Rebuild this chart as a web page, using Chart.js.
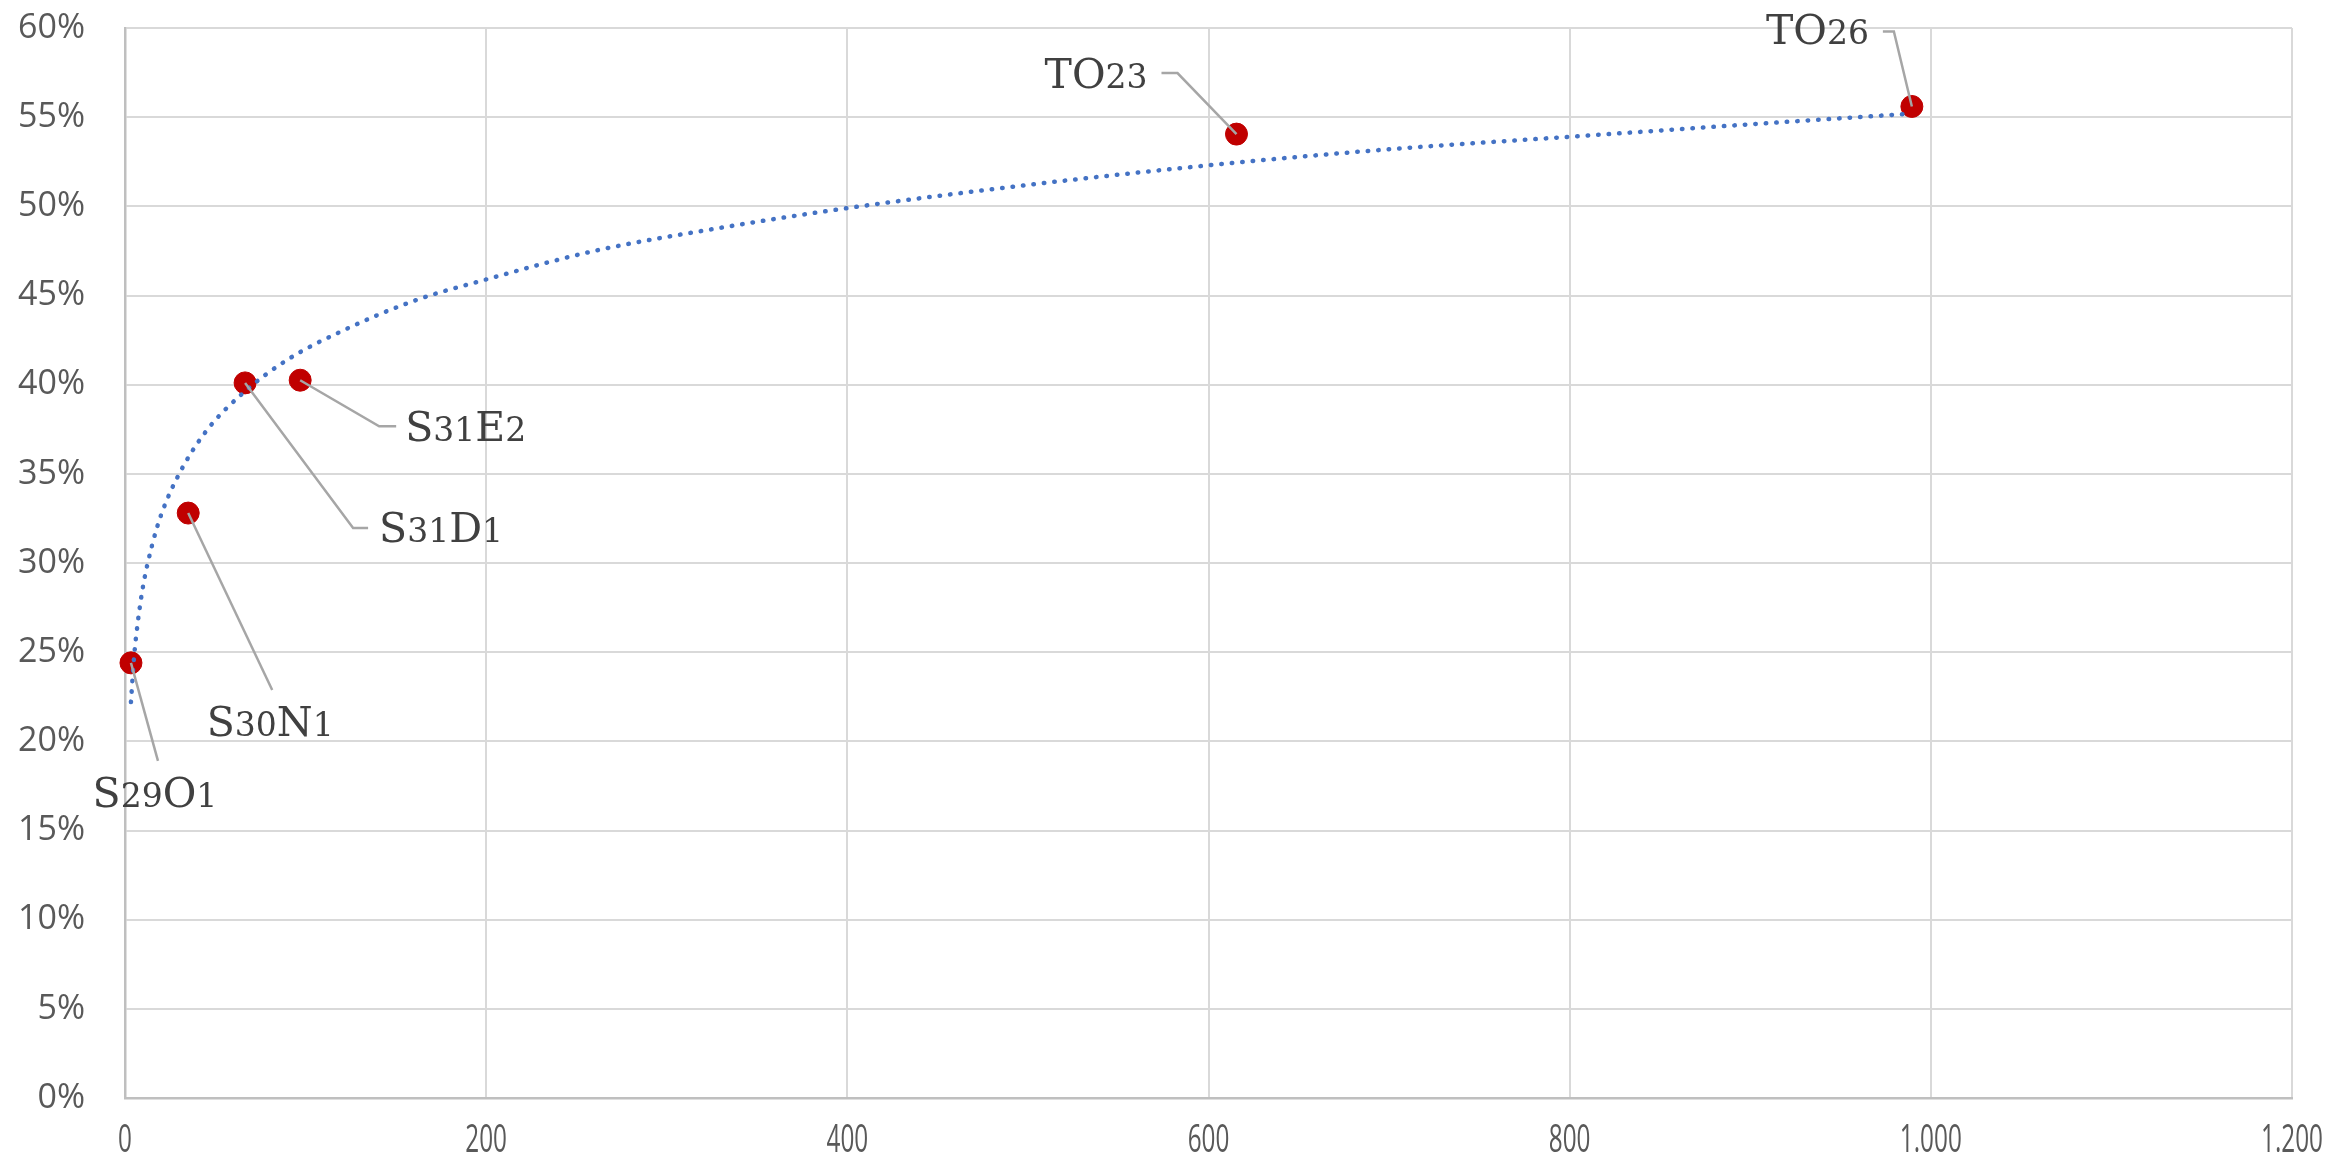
<!DOCTYPE html>
<html>
<head>
<meta charset="utf-8">
<script src="https://cdn.jsdelivr.net/npm/chart.js@4.4.0/dist/chart.umd.min.js"></script>
<style>
  html, body { margin: 0; padding: 0; background: #fff; }
  #wrap { width: 2331px; height: 1167px; }
</style>
</head>
<body>
<div id="wrap"><canvas id="chart"></canvas></div>
<script>
// samples
var sampleNames = ["S29O1", "S30N1", "S31D1", "S31E2", "TO23", "TO26"];
var xValues = [3.3, 35, 66.5, 97, 615.5, 989.5];
var yValues = [24.4, 32.8, 40.1, 40.25, 54.05, 55.6];

// logarithmic trend line
var trendX = [3.3, 5, 7, 10, 15, 20, 30, 45, 65, 90, 120, 160, 200, 260, 330, 400, 500, 600, 700, 800, 900, 989.5];
var trendY = [22.2, 24.7, 26.6, 28.7, 31.0, 32.7, 35.0, 37.4, 39.5, 41.4, 43.0, 44.7, 45.9, 47.5, 48.8, 49.9, 51.2, 52.3, 53.2, 53.9, 54.6, 55.2];

var xTicks = [0, 200, 400, 600, 800, 1000, 1200];
var yTicks = [0, 5, 10, 15, 20, 25, 30, 35, 40, 45, 50, 55, 60];

// where each data label sits, in px from its point (leader path, then text anchor)
var labelLayout = [
  { path: [[27, 98]], at: [24, 129], align: "center" },
  { path: [[84, 177]], at: [82, 208], align: "center" },
  { path: [[108, 145], [123, 145]], at: [134, 144], align: "left" },
  { path: [[79, 46], [96, 46]], at: [105, 46], align: "left" },
  { path: [[-59, -61], [-75, -61]], at: [-89, -61], align: "right" },
  { path: [[-18, -75], [-29, -75]], at: [-43, -77], align: "right" }
];

function fmtThousands(v) {
  return String(v).replace(/\B(?=(\d{3})+(?!\d))/g, ".");
}

// letters full size, digits a bit smaller (old-style look)
var letterFont = '41px "DejaVu Serif"';
var digitFont = '33px "DejaVu Serif"';

function drawRichLabel(ctx, text, x, y, align) {
  var parts = text.match(/\d+|\D+/g);
  var widths = parts.map(function(p) {
    ctx.font = /\d/.test(p) ? digitFont : letterFont;
    return ctx.measureText(p).width;
  });
  var total = widths.reduce(function(a, b) { return a + b; }, 0);
  var cx = x;
  if (align === "center") cx = x - total / 2;
  if (align === "right") cx = x - total;
  var base = y + 15;
  ctx.textAlign = "left";
  ctx.textBaseline = "alphabetic";
  ctx.fillStyle = "#404040";
  parts.forEach(function(p, i) {
    ctx.font = /\d/.test(p) ? digitFont : letterFont;
    ctx.fillText(p, cx, base);
    cx += widths[i];
  });
}

var dataLabels = {
  id: "dataLabels",
  afterDatasetsDraw: function(chart) {
    var ctx = chart.ctx;
    var meta = chart.getDatasetMeta(1);
    ctx.save();
    meta.data.forEach(function(pt, i) {
      var lay = labelLayout[i];
      ctx.beginPath();
      ctx.moveTo(pt.x, pt.y);
      lay.path.forEach(function(p) { ctx.lineTo(pt.x + p[0], pt.y + p[1]); });
      ctx.strokeStyle = "#A6A6A6";
      ctx.lineWidth = 2.5;
      ctx.stroke();
      drawRichLabel(ctx, sampleNames[i], pt.x + lay.at[0], pt.y + lay.at[1], lay.align);
    });
    ctx.restore();
  }
};

// x tick labels drawn narrow (condensed look), placed by the x scale
var narrowXTicks = {
  id: "narrowXTicks",
  afterDraw: function(chart) {
    var ctx = chart.ctx;
    var sx = chart.scales.x;
    ctx.save();
    ctx.font = '38px "Open Sans"';
    ctx.fillStyle = "#595959";
    ctx.textAlign = "center";
    ctx.textBaseline = "middle";
    sx.ticks.forEach(function(t) {
      var px = sx.getPixelForValue(t.value);
      ctx.save();
      ctx.translate(px, sx.top + 43);
      ctx.scale(0.64, 1);
      ctx.fillText(fmtThousands(t.value), 0, 0);
      ctx.restore();
    });
    ctx.restore();
  }
};

var trendPoints = trendX.map(function(x, i) { return { x: x, y: trendY[i] }; });
var samplePoints = xValues.map(function(x, i) { return { x: x, y: yValues[i] }; });

new Chart(document.getElementById("chart"), {
  type: "scatter",
  data: {
    datasets: [{
      label: "Trend",
      data: trendPoints,
      showLine: true,
      pointRadius: 0,
      borderColor: "#4472C4",
      borderWidth: 4.5,
      borderDash: [0.5, 10],
      borderCapStyle: "round",
      cubicInterpolationMode: "monotone",
      clip: false,
      order: 0
    }, {
      label: "Samples",
      data: samplePoints,
      pointRadius: 11,
      pointBackgroundColor: "#C00000",
      pointBorderColor: "#C00000",
      pointBorderWidth: 1,
      clip: false,
      order: 1
    }]
  },
  options: {
    responsive: true,
    maintainAspectRatio: false,
    animation: false,
    layout: { autoPadding: false, padding: { left: 0, right: 39, top: 28, bottom: 0 } },
    plugins: {
      legend: { display: false },
      tooltip: { enabled: false }
    },
    scales: {
      x: {
        type: "linear",
        min: 0,
        max: 1200,
        afterBuildTicks: function(scale) { scale.ticks = xTicks.map(function(v) { return { value: v }; }); },
        afterFit: function(scale) { scale.height = 69; },
        grid: { color: "#D9D9D9", lineWidth: 2, drawTicks: false },
        border: { color: "#BFBFBF", width: 2.5 },
        ticks: { display: false, autoSkip: false }
      },
      y: {
        min: 0,
        max: 60,
        afterBuildTicks: function(scale) { scale.ticks = yTicks.map(function(v) { return { value: v }; }); },
        afterFit: function(scale) {
          scale.width = 125;
          scale.paddingTop = 0;
          scale.paddingBottom = 0;
        },
        grid: { color: "#D9D9D9", lineWidth: 2, drawTicks: false },
        border: { color: "#BFBFBF", width: 2.5 },
        ticks: {
          autoSkip: false,
          padding: 40,
          color: "#595959",
          font: { family: '"Open Sans", sans-serif', size: 34 },
          callback: function(v) { return v + "%"; }
        }
      }
    }
  },
  plugins: [dataLabels, narrowXTicks]
});
</script>
</body>
</html>
